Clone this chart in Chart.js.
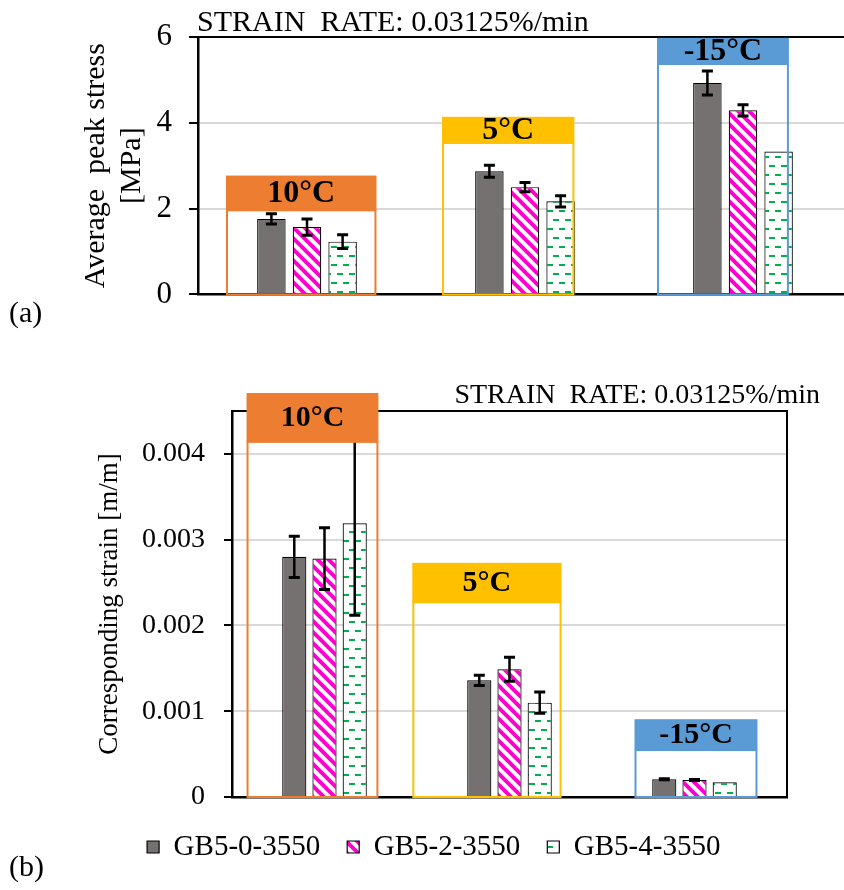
<!DOCTYPE html>
<html>
<head>
<meta charset="utf-8">
<script src="https://cdn.jsdelivr.net/npm/chart.js@4.4.0/dist/chart.umd.min.js"></script>
<style>
  html, body { margin: 0; padding: 0; background: #fff; overflow: hidden; width: 844px; height: 890px; }
  #wrapA { position: absolute; left: 0; top: 0; }
  #wrapB { position: absolute; left: 0; top: 330px; }
</style>
</head>
<body>
<div id="wrapA"><canvas id="chartA" width="870" height="330"></canvas></div>
<div id="wrapB"><canvas id="chartB" width="844" height="560"></canvas></div>
<script>
// === data ===
const temps = ['10°C', '5°C', '-15°C'];
const seriesNames = ['GB5-0-3550', 'GB5-2-3550', 'GB5-4-3550'];
const stressTicks = [0, 2, 4, 6];
const strainTicks = [0, 0.001, 0.002, 0.003, 0.004];

// (a) average peak stress [MPa]
const stressGB0 = [1.76, 2.87, 4.93];
const stressGB2 = [1.57, 2.50, 4.29];
const stressGB4 = [1.23, 2.17, 3.33];
const stressErrGB0 = [0.12, 0.14, 0.28];
const stressErrGB2 = [0.19, 0.11, 0.13];
const stressErrGB4 = [0.16, 0.13, 0];

// (b) corresponding strain [m/m]
const strainGB0 = [0.00280, 0.00136, 0.000206];
const strainGB2 = [0.00278, 0.00149, 0.000198];
const strainGB4 = [0.00319, 0.00110, 0.000171];
const strainErrGB0 = [0.00024, 0.00006, 0.000006];
const strainErrGB2 = [0.00036, 0.00014, 0.000006];
const strainErrGB4 = [0.00107, 0.000125, 0];

const SERIF = "'Liberation Serif', 'Times New Roman', serif";
const ORANGE = '#ED7D31', YELLOW = '#FFC000', BLUE = '#5B9BD5';

// === fill patterns ===
function pinkStripes() {
  const c = document.createElement('canvas');
  c.width = 11; c.height = 11;
  const g = c.getContext('2d');
  g.fillStyle = '#fff'; g.fillRect(0, 0, 11, 11);
  g.strokeStyle = '#FF00CC'; g.lineWidth = 4;
  for (const k of [-11, 0, 11]) {
    g.beginPath(); g.moveTo(k - 2, -2); g.lineTo(k + 13, 13); g.stroke();
  }
  return g.createPattern(c, 'repeat');
}
function greenDashes() {
  const c = document.createElement('canvas');
  c.width = 12; c.height = 18;
  const g = c.getContext('2d');
  g.fillStyle = '#fff'; g.fillRect(0, 0, 12, 18);
  g.fillStyle = '#00B050';
  g.fillRect(1, 3, 6, 2);
  g.fillRect(7, 12, 6, 2);
  g.fillRect(-5, 12, 6, 2);
  return g.createPattern(c, 'repeat');
}
const fills = ['#767171', pinkStripes(), greenDashes()];

// frame, error bars, temperature boxes and free text
const annotate = {
  id: 'annotate',
  afterDatasetsDraw(chart, args, opts) {
    const { ctx, chartArea: a, scales: { x, y } } = chart;
    ctx.save();
    ctx.strokeStyle = '#000';
    ctx.lineWidth = 2;
    if (opts.fullFrame) {
      ctx.strokeRect(a.left, a.top, a.right - a.left, a.bottom - a.top);
    } else {
      ctx.beginPath(); ctx.moveTo(a.left, a.top); ctx.lineTo(a.right, a.top); ctx.stroke();
    }

    opts.errors.forEach((errs, i) => {
      const vals = chart.data.datasets[i].data;
      chart.getDatasetMeta(i).data.forEach((bar, j) => {
        const e = errs[j];
        if (!e) return;
        const yt = y.getPixelForValue(vals[j] + e);
        const yb = y.getPixelForValue(vals[j] - e);
        ctx.strokeStyle = '#000';
        ctx.lineWidth = 2.5;
        ctx.beginPath(); ctx.moveTo(bar.x, yt); ctx.lineTo(bar.x, yb); ctx.stroke();
        ctx.lineWidth = 3;
        ctx.beginPath();
        ctx.moveTo(bar.x - 5.5, yt); ctx.lineTo(bar.x + 5.5, yt);
        ctx.moveTo(bar.x - 5.5, yb); ctx.lineTo(bar.x + 5.5, yb);
        ctx.stroke();
      });
    });

    const step = x.getPixelForValue(1) - x.getPixelForValue(0);
    opts.boxes.forEach((b, j) => {
      const cx = x.getPixelForValue(j);
      const l = cx + b.x0 * step, r = cx + b.x1 * step;
      const t = y.getPixelForValue(b.top), m = y.getPixelForValue(b.bottom), z = y.getPixelForValue(0);
      ctx.strokeStyle = b.color; ctx.lineWidth = 2;
      ctx.strokeRect(l, m, r - l, z - m);
      ctx.fillStyle = b.color;
      ctx.fillRect(l - 1, t, r - l + 2, m - t);
      ctx.fillStyle = '#000';
      ctx.font = opts.labelFont;
      ctx.textAlign = 'center';
      ctx.textBaseline = 'middle';
      ctx.fillText(temps[j], (l + r) / 2, (t + m) / 2 + 1);
    });

    opts.texts.forEach(tx => {
      ctx.fillStyle = '#000';
      ctx.font = tx.font;
      ctx.textAlign = tx.align;
      ctx.textBaseline = 'alphabetic';
      ctx.fillText(tx.text, tx.x, tx.y);
    });
    ctx.restore();
  }
};

function barSets(values) {
  return values.map((d, i) => ({
    label: seriesNames[i],
    data: d,
    backgroundColor: fills[i],
    borderColor: '#000',
    borderWidth: 1.2,
    categoryPercentage: 0.49,
    barPercentage: 0.8
  }));
}

// === (a) average peak stress ===
new Chart(document.getElementById('chartA'), {
  type: 'bar',
  data: { labels: temps, datasets: barSets([stressGB0, stressGB2, stressGB4]) },
  options: {
    responsive: false,
    animation: false,
    devicePixelRatio: 1,
    layout: { padding: { left: 0, right: 18, top: 37, bottom: 33 } },
    plugins: {
      legend: { display: false },
      tooltip: { enabled: false },
      annotate: {
        fullFrame: false,
        errors: [stressErrGB0, stressErrGB2, stressErrGB4],
        labelFont: 'bold 32px ' + SERIF,
        boxes: [
          { color: ORANGE, x0: -0.367, x1: 0.314, top: 2.77, bottom: 1.96 },
          { color: YELLOW, x0: -0.376, x1: 0.222, top: 4.14, bottom: 3.53 },
          { color: BLUE, x0: -0.39, x1: 0.206, top: 5.98, bottom: 5.37 }
        ],
        texts: [
          { text: 'STRAIN  RATE: 0.03125%/min', x: 197, y: 31, align: 'left', font: '30px ' + SERIF },
          { text: '(a)', x: 9, y: 322, align: 'left', font: '30px ' + SERIF }
        ]
      }
    },
    scales: {
      x: {
        ticks: { display: false },
        grid: { display: false, drawTicks: false },
        border: { color: '#000', width: 2.5 },
        afterFit: s => { s.height = 0; }
      },
      y: {
        min: 0, max: 6,
        afterFit: s => { s.width = 198; },
        afterBuildTicks: s => { s.ticks = stressTicks.map(v => ({ value: v })); },
        ticks: { color: '#000', padding: 17, font: { family: SERIF, size: 31 } },
        grid: {
          color: c => (c.tick && c.tick.value === 0) ? 'rgba(0,0,0,0)' : '#D9D9D9',
          lineWidth: 2, tickColor: '#000', tickLength: 9, tickWidth: 2
        },
        border: { color: '#000', width: 2.5 },
        title: {
          display: true,
          text: ['Average  peak stress', '[MPa]'],
          color: '#000',
          font: { family: SERIF, size: 30, lineHeight: 1.2 },
          padding: { top: 78, bottom: 0 }
        }
      }
    }
  },
  plugins: [annotate]
});

// === (b) corresponding strain ===
new Chart(document.getElementById('chartB'), {
  type: 'bar',
  data: { labels: temps, datasets: barSets([strainGB0, strainGB2, strainGB4]) },
  options: {
    responsive: false,
    animation: false,
    devicePixelRatio: 1,
    layout: { padding: { left: 80.5, right: 57, top: 81, bottom: 18.5 } },
    plugins: {
      tooltip: { enabled: false },
      legend: {
        position: 'bottom',
        labels: {
          color: '#000',
          boxWidth: 12, boxHeight: 12, padding: 27,
          font: { family: SERIF, size: 29 }
        }
      },
      annotate: {
        fullFrame: true,
        errors: [strainErrGB0, strainErrGB2, strainErrGB4],
        labelFont: 'bold 30px ' + SERIF,
        boxes: [
          { color: ORANGE, x0: -0.416, x1: 0.286, top: 0.00471, bottom: 0.00414 },
          { color: YELLOW, x0: -0.52, x1: 0.276, top: 0.00273, bottom: 0.00227 },
          { color: BLUE, x0: -0.319, x1: 0.335, top: 0.000907, bottom: 0.000547 }
        ],
        texts: [
          { text: 'STRAIN  RATE: 0.03125%/min', x: 820, y: 73, align: 'right', font: '28px ' + SERIF },
          { text: '(b)', x: 9, y: 546, align: 'left', font: '30px ' + SERIF }
        ]
      }
    },
    scales: {
      x: {
        ticks: { display: false },
        grid: { display: false, drawTicks: false },
        border: { color: '#000', width: 2.5 },
        afterFit: s => { s.height = 8.5; }
      },
      y: {
        min: 0, max: 0.0045,
        afterFit: s => { s.width = 151.5; },
        afterBuildTicks: s => { s.ticks = strainTicks.map(v => ({ value: v })); },
        ticks: {
          color: '#000', padding: 19, font: { family: SERIF, size: 28 },
          callback: v => v === 0 ? '0' : v.toFixed(3)
        },
        grid: {
          color: c => (c.tick && c.tick.value === 0) ? 'rgba(0,0,0,0)' : '#D9D9D9',
          lineWidth: 2, tickColor: '#000', tickLength: 8, tickWidth: 2
        },
        border: { color: '#000', width: 2.5 },
        title: {
          display: true,
          text: 'Corresponding strain [m/m]',
          color: '#000',
          font: { family: SERIF, size: 27, lineHeight: 1.2 },
          padding: { top: 13, bottom: 0 }
        }
      }
    }
  },
  plugins: [annotate]
});
</script>
</body>
</html>
